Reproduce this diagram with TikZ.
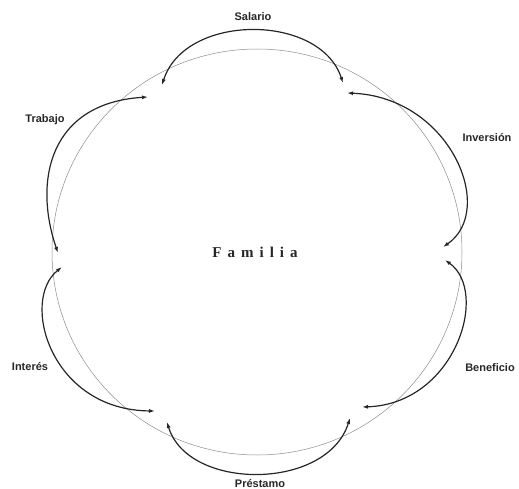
\documentclass[tikz,border=0pt]{standalone}
\usepackage{fontspec}
\setmainfont{Liberation Sans}
\newfontfamily\famfont[LetterSpace=40]{Liberation Serif}
\usetikzlibrary{arrows.meta}
\tikzset{
  flow/.style={line width=1.2pt, draw=black!85, {Latex[length=6pt,width=4pt]}-{Latex[length=6pt,width=4pt]}},
  ring/.style={draw=black!45, line width=0.5pt},
  lbl/.style={font=\fontsize{11}{13}\selectfont\bfseries, text=black!85, inner sep=1pt},
  center/.style={font=\famfont\fontsize{15}{17}\selectfont\bfseries, text=black!85}
}
\begin{document}
\begin{tikzpicture}[x=1pt,y=-1pt]
\useasboundingbox (0,0) rectangle (519,489);
\draw[ring] (257,252) ellipse [x radius=205, y radius=203];
\node[center] (fam) at (255,252) {Familia};
% labels
\node[lbl] (sal) at (253,17) {Salario};
\node[lbl] (tra) at (45,120) {Trabajo};
\node[lbl] (inv) at (487,138) {Inversión};
\node[lbl] (int) at (30,367) {Interés};
\node[lbl] (ben) at (490,368) {Beneficio};
\node[lbl] (pre) at (260,484) {Préstamo};
% arc end points
\coordinate (sa) at (162,85);  \coordinate (sb) at (343,83);
\coordinate (ia) at (347,93);  \coordinate (ib) at (443,247);
\coordinate (ba) at (445,260); \coordinate (bb) at (362,407);
\coordinate (pa) at (350,418); \coordinate (pb) at (167,422);
\coordinate (ea) at (155,411); \coordinate (eb) at (62,267);
\coordinate (ta) at (58,253);  \coordinate (tb) at (148,97);
% arcs
\draw[flow] (sa) .. controls (185,13) and (320,13) .. (sb);
\draw[flow] (ia) .. controls (450,97) and (497,210) .. (ib);
\draw[flow] (ba) .. controls (490,292) and (455,404) .. (bb);
\draw[flow] (pa) .. controls (327,491) and (188,491) .. (pb);
\draw[flow] (ea) .. controls (50,410) and (20,300) .. (eb);
\draw[flow] (ta) .. controls (33,180) and (50,103) .. (tb);
\end{tikzpicture}
\end{document}
